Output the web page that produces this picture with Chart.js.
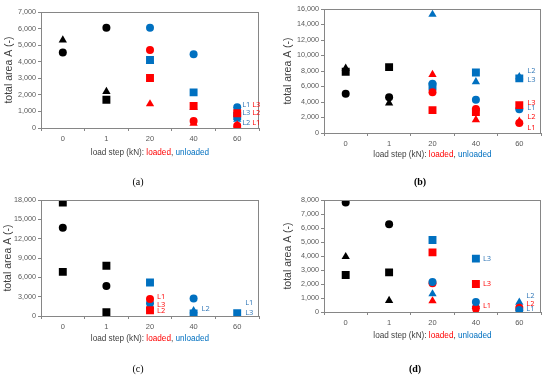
<!DOCTYPE html>
<html><head><meta charset="utf-8">
<script src="https://cdn.jsdelivr.net/npm/chart.js@4/dist/chart.umd.min.js"></script>
<style>
html,body{margin:0;padding:0;background:#fff}
body{width:550px;height:377px;position:relative;overflow:hidden}
.panel{position:absolute;width:275px}
canvas{display:block}
.cap{position:absolute;font-family:"Liberation Serif","Times New Roman",serif;font-size:10px;color:#000;transform:translate(-50%,-50%);white-space:nowrap}
</style></head><body>
<div class="panel" style="left:0;top:0;height:190px"><canvas id="ca"></canvas></div>
<div class="panel" style="left:275px;top:0;height:190px"><canvas id="cb"></canvas></div>
<div class="panel" style="left:0;top:188px;height:189px"><canvas id="cc"></canvas></div>
<div class="panel" style="left:275px;top:188px;height:189px"><canvas id="cd"></canvas></div>
<div class="cap" style="left:138px;top:181px">(a)</div>
<div class="cap" style="left:420px;top:181px;font-weight:bold">(b)</div>
<div class="cap" style="left:138px;top:368px">(c)</div>
<div class="cap" style="left:415px;top:368px;font-weight:bold">(d)</div>
<script>
// ---------- data ----------
const categories = ['0', '1', '20', '40', '60'];
const xTitleParts = ['load step (kN): ', 'loaded', ', ', 'unloaded'];
const yTitle = 'total area A (-)';

// panel (a)
const aBlackCircle   = [4550, 6050, null, null, null];
const aBlackTriangle = [5300, 2200, null, null, null];
const aBlackSquare   = [null, 1700, null, null, null];
const aRedCircle     = [null, null, 4700, 420, 140];
const aRedTriangle   = [null, null, 1450, 280, 180];
const aRedSquare     = [null, null, 3020, 1330, 890];
const aBlueCircle    = [null, null, 6050, 4450, 1250];
const aBlueTriangle  = [null, null, 4000, 1250, 520];
const aBlueSquare    = [null, null, 4100, 2150, 720];
const aYMax = 7000, aYStep = 1000;
const aLabels = [['L1', '60', 1405, 'blue'], ['L3', '60', 887, 'blue'], ['L2', '60', 320, 'blue'],
                 ['L3', '60', 1405, 'red'], ['L2', '60', 887, 'red'], ['L1', '60', 320, 'red']];

// panel (b)
const bBlackCircle   = [5050, 4600, null, null, null];
const bBlackTriangle = [8350, 3850, null, null, null];
const bBlackSquare   = [7900, 8500, null, null, null];
const bRedCircle     = [null, null, 5250, 3100, 1300];
const bRedTriangle   = [null, null, 7550, 1700, 1500];
const bRedSquare     = [null, null, 2950, 2700, 3600];
const bBlueCircle    = [null, null, 6350, 4300, 3050];
const bBlueTriangle  = [null, null, 15300, 6600, 7250];
const bBlueSquare    = [null, null, 6000, 7800, 7050];
const bYMax = 16000, bYStep = 2000;
const bLabels = [['L2', '60', 8000, 'blue'], ['L3', '60', 6840, 'blue'], ['L3', '60', 3910, 'red'],
                 ['L1', '60', 3190, 'blue'], ['L2', '60', 2060, 'red'], ['L1', '60', 600, 'red']];

// panel (c)
const cBlackCircle   = [13700, 4650, null, null, null];
const cBlackSquareHi = [17600, 7800, null, null, null];
const cBlackSquareLo = [6850, 580, null, null, null];
const cRedCircle     = [null, null, 2640, null, null];
const cRedSquare     = [null, null, 880, null, null];
const cBlueCircle    = [null, null, 1970, 2700, null];
const cBlueTriangle  = [null, null, 1500, 800, null];
const cBlueSquare    = [null, null, 5200, 380, 420];
const cYMax = 18000, cYStep = 3000;
const cLabels = [['L1', '20', 2900, 'red'], ['L3', '20', 1700, 'red'], ['L2', '20', 780, 'red'],
                 ['L2', '40', 1090, 'blue'], ['L1', '60', 1970, 'blue'], ['L3', '60', 420, 'blue']];

// panel (d)
const dBlackCircle   = [7830, 6260, null, null, null];
const dBlackTriangle = [3950, 810, null, null, null];
const dBlackSquare   = [2640, 2830, null, null, null];
const dRedCircle     = [null, null, 2050, 270, 300];
const dRedTriangle   = [null, null, 790, 60, 260];
const dRedSquare     = [null, null, 4260, 2000, null];
const dBlueCircle    = [null, null, 2150, 720, 150];
const dBlueTriangle  = [null, null, 1290, 520, 690];
const dBlueSquare    = [null, null, 5140, 3810, null];
const dYMax = 8000, dYStep = 1000;
const dLabels = [['L3', '40', 3790, 'blue'], ['L3', '40', 1980, 'red'], ['L1', '40', 430, 'red'],
                 ['L2', '60', 1140, 'blue'], ['L2', '60', 570, 'red'], ['L1', '60', 190, 'blue']];

// ---------- styles ----------
const COLORS = { black: '#000000', red: '#FF0000', blue: '#0070C0' };
const LABEL_COLORS = { red: '#FF0000', blue: '#2E75B6' };
const RADIUS = { circle: 4, triangle: 4.8, rect: 5.6 };
const AXIS_GRAY = '#868686';
const TICK_COLOR = '#595959';
const FONT = '"Liberation Sans", Arial, sans-serif';

function ds(data, color, style) {
  return {
    data: data, showLine: false, pointStyle: style,
    pointRadius: RADIUS[style], pointHoverRadius: RADIUS[style],
    backgroundColor: COLORS[color], borderColor: COLORS[color], borderWidth: 0
  };
}

const decor = {
  id: 'decor',
  afterDraw(chart, args, o) {
    const ctx = chart.ctx, a = chart.chartArea, xs = chart.scales.x, ys = chart.scales.y;
    ctx.save();
    // plot frame
    ctx.strokeStyle = AXIS_GRAY; ctx.lineWidth = 1;
    ctx.strokeRect(Math.round(a.left) + 0.5, Math.round(a.top) + 0.5,
                   Math.round(a.right - a.left) - 1, Math.round(a.bottom - a.top));
    // y title
    ctx.fillStyle = '#404040';
    ctx.font = '10.5px ' + FONT;
    ctx.textAlign = 'center'; ctx.textBaseline = 'middle';
    ctx.save();
    ctx.translate(o.yTitleX, (a.top + a.bottom) / 2);
    ctx.rotate(-Math.PI / 2);
    ctx.fillText(yTitle, 0, 0);
    ctx.restore();
    // x title (multi-colour)
    ctx.font = '8.2px ' + FONT;
    ctx.textAlign = 'left';
    const cols = ['#404040', COLORS.red, '#404040', COLORS.blue];
    let total = 0;
    xTitleParts.forEach(p => total += ctx.measureText(p).width);
    let x = (a.left + a.right) / 2 - total / 2;
    const y = a.bottom + o.xTitleDy;
    xTitleParts.forEach((p, i) => { ctx.fillStyle = cols[i]; ctx.fillText(p, x, y); x += ctx.measureText(p).width; });
    // point labels
    ctx.font = '7.5px "Open Sans", ' + FONT;
    o.labels.forEach(l => {
      const off = l[3] === 'blue' ? o.blueOff : o.redOff;
      ctx.fillStyle = LABEL_COLORS[l[3]];
      ctx.fillText(l[0], xs.getPixelForValue(categories.indexOf(l[1])) + off, ys.getPixelForValue(l[2]));
    });
    ctx.restore();
  }
};

function makeChart(id, datasets, yMax, yStep, pad, xH, yW, deco) {
  new Chart(document.getElementById(id), {
    type: 'line',
    data: { labels: categories, datasets: datasets },
    options: {
      responsive: true, maintainAspectRatio: false, animation: false,
      events: [],
      layout: { padding: pad },
      plugins: { legend: { display: false }, tooltip: { enabled: false }, title: { display: false }, decor: deco },
      scales: {
        x: {
          type: 'category', offset: true,
          grid: { offset: true, drawOnChartArea: false, drawTicks: true, tickLength: 3, color: AXIS_GRAY },
          border: { color: AXIS_GRAY },
          ticks: { color: TICK_COLOR, font: { size: 7.5, family: FONT }, padding: 3, maxRotation: 0 },
          afterFit(s) { s.height = xH; }
        },
        y: {
          min: 0, max: yMax,
          grid: { drawOnChartArea: false, drawTicks: true, tickLength: 3, color: AXIS_GRAY },
          border: { color: AXIS_GRAY },
          ticks: { stepSize: yStep, color: TICK_COLOR, font: { size: 7.2, family: FONT }, padding: 2,
                   callback: v => v.toLocaleString('en-US') },
          afterFit(s) { s.width = yW; }
        }
      }
    },
    plugins: [decor]
  });
}

makeChart('ca', [
  ds(aRedCircle, 'red', 'circle'), ds(aRedSquare, 'red', 'rect'), ds(aRedTriangle, 'red', 'triangle'),
  ds(aBlueCircle, 'blue', 'circle'), ds(aBlueSquare, 'blue', 'rect'), ds(aBlueTriangle, 'blue', 'triangle'),
  ds(aBlackCircle, 'black', 'circle'), ds(aBlackTriangle, 'black', 'triangle'), ds(aBlackSquare, 'black', 'rect')
], aYMax, aYStep, { left: 0, top: 12, right: 16, bottom: 0 }, 62, 41,
  { labels: aLabels, yTitleX: 9, xTitleDy: 25, blueOff: 5, redOff: 15 });

makeChart('cb', [
  ds(bRedSquare, 'red', 'rect'), ds(bRedCircle, 'red', 'circle'), ds(bRedTriangle, 'red', 'triangle'),
  ds(bBlueCircle, 'blue', 'circle'), ds(bBlueSquare, 'blue', 'rect'), ds(bBlueTriangle, 'blue', 'triangle'),
  ds(bBlackCircle, 'black', 'circle'), ds(bBlackTriangle, 'black', 'triangle'), ds(bBlackSquare, 'black', 'rect')
], bYMax, bYStep, { left: 0, top: 9, right: 9, bottom: 0 }, 57, 49,
  { labels: bLabels, yTitleX: 13, xTitleDy: 22, blueOff: 8, redOff: 8 });

makeChart('cc', [
  ds(cRedCircle, 'red', 'circle'), ds(cRedSquare, 'red', 'rect'),
  ds(cBlueCircle, 'blue', 'circle'), ds(cBlueTriangle, 'blue', 'triangle'), ds(cBlueSquare, 'blue', 'rect'),
  ds(cBlackCircle, 'black', 'circle'), ds(cBlackSquareHi, 'black', 'rect'), ds(cBlackSquareLo, 'black', 'rect')
], cYMax, cYStep, { left: 0, top: 12, right: 16, bottom: 0 }, 61, 41,
  { labels: cLabels, yTitleX: 8, xTitleDy: 23, blueOff: 8, redOff: 7 });

makeChart('cd', [
  ds(dBlueCircle, 'blue', 'circle'), ds(dRedCircle, 'red', 'circle'), ds(dRedSquare, 'red', 'rect'), ds(dRedTriangle, 'red', 'triangle'),
  ds(dBlueSquare, 'blue', 'rect'), ds(dBlueTriangle, 'blue', 'triangle'),
  ds(dBlackCircle, 'black', 'circle'), ds(dBlackTriangle, 'black', 'triangle'), ds(dBlackSquare, 'black', 'rect')
], dYMax, dYStep, { left: 0, top: 12, right: 9, bottom: 0 }, 65, 49,
  { labels: dLabels, yTitleX: 13, xTitleDy: 24, blueOff: 7, redOff: 7 });
</script>
</body></html>
